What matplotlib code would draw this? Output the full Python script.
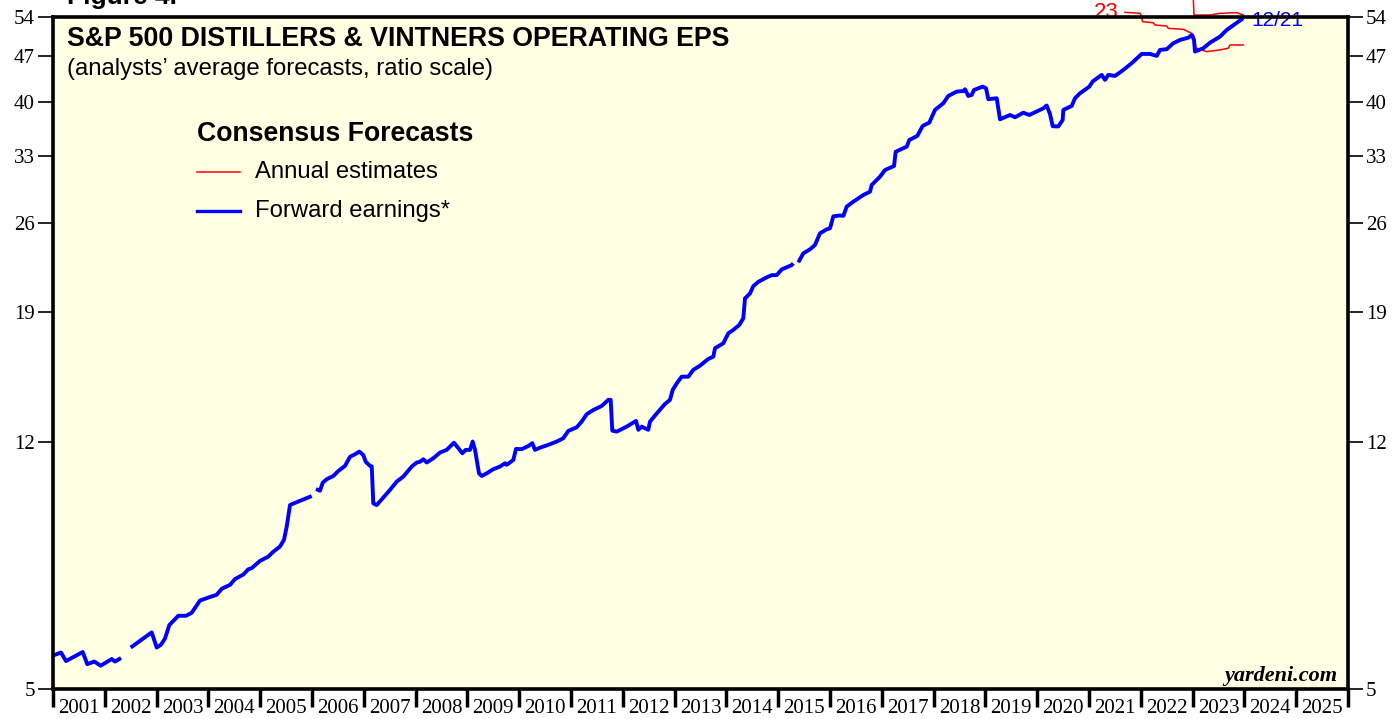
import matplotlib
matplotlib.use("Agg")
import matplotlib.pyplot as plt
import numpy as np
from matplotlib.lines import Line2D

# ---------------- data (decimal years, EPS in $) ----------------
fwd_dates = [
    2001.006, 2001.154, 2001.251, 2001.573, 2001.662, 2001.797, 2001.921, 2002.133, 2002.197, 2002.313,
    np.nan,
    2002.500, 2002.905, 2003.002, 2003.085, 2003.162, 2003.245, 2003.419, 2003.568, 2003.678, 2003.838,
    2004.017, 2004.160, 2004.257, 2004.417, 2004.514, 2004.674, 2004.770, 2004.836, 2004.996, 2005.156,
    2005.253, 2005.382, 2005.459, 2005.512, 2005.575, 2005.705, 2005.994,
    np.nan,
    2006.077, 2006.154, 2006.207, 2006.284, 2006.411, 2006.508, 2006.637, 2006.734, 2006.830, 2006.913,
    2006.990, 2007.037, 2007.120, 2007.153, 2007.183, 2007.249, 2007.377, 2007.506, 2007.635, 2007.763,
    2007.925, 2008.021, 2008.085, 2008.149, 2008.214, 2008.342, 2008.471, 2008.600, 2008.741, 2008.824,
    2008.902, 2008.967, 2009.050, 2009.102, 2009.147, 2009.224, 2009.276, 2009.372, 2009.500, 2009.629,
    2009.726, 2009.759, 2009.886, 2009.938, 2010.048, 2010.176, 2010.253, 2010.305, 2010.401, 2010.562,
    2010.724, 2010.851, 2010.948, 2011.110, 2011.206, 2011.303, 2011.431, 2011.592, 2011.720, 2011.766,
    2011.797, 2011.882, 2012.075, 2012.255, 2012.299, 2012.365, 2012.492, 2012.525, 2012.685, 2012.815,
    2012.911, 2012.963, 2013.052, 2013.137, 2013.265, 2013.361, 2013.490, 2013.650, 2013.747, 2013.780,
    2013.940, 2014.037, 2014.133, 2014.249, 2014.326, 2014.359, 2014.456, 2014.519, 2014.616, 2014.778,
    2014.875, 2014.971, 2015.067, 2015.260, 2015.291,
    np.nan,
    2015.388, 2015.485, 2015.614, 2015.710, 2015.807, 2015.936, 2016.000, 2016.064, 2016.193, 2016.257,
    2016.322, 2016.450, 2016.643, 2016.772, 2016.805, 2016.965, 2017.062, 2017.236, 2017.268, 2017.481,
    2017.531, 2017.685, 2017.789, 2017.917, 2018.027, 2018.187, 2018.284, 2018.446, 2018.574, 2018.606,
    2018.670, 2018.736, 2018.780, 2018.948, 2019.012, 2019.056, 2019.218, 2019.282, 2019.475, 2019.571,
    2019.732, 2019.847, 2020.118, 2020.183, 2020.247, 2020.299, 2020.407, 2020.492, 2020.504, 2020.666,
    2020.730, 2020.826, 2021.006, 2021.071, 2021.245, 2021.309, 2021.373, 2021.502, 2021.662, 2021.824,
    2022.017, 2022.178, 2022.307, 2022.371, 2022.500, 2022.627, 2022.757, 2022.917, 2022.983, 2023.027,
    2023.046, 2023.207, 2023.336, 2023.529, 2023.658, 2023.819, 2023.948, 2023.970,
]
fwd_values = [
    5.63, 5.69, 5.52, 5.70, 5.46, 5.51, 5.43, 5.56, 5.51, 5.58,
    np.nan,
    5.79, 6.11, 5.79, 5.85, 5.98, 6.27, 6.48, 6.48, 6.55, 6.84,
    6.92, 6.98, 7.13, 7.23, 7.38, 7.50, 7.64, 7.67, 7.87, 7.99,
    8.13, 8.28, 8.48, 8.89, 9.59, 9.69, 9.90,
    np.nan,
    10.15, 10.09, 10.38, 10.51, 10.63, 10.82, 11.02, 11.38, 11.48, 11.59,
    11.45, 11.18, 11.02, 11.00, 9.65, 9.59, 9.85, 10.12, 10.42, 10.61,
    10.99, 11.15, 11.18, 11.28, 11.15, 11.32, 11.55, 11.66, 11.96, 11.73,
    11.52, 11.66, 11.66, 12.01, 11.66, 10.73, 10.63, 10.73, 10.89, 10.99,
    11.12, 11.06, 11.25, 11.70, 11.69, 11.82, 11.94, 11.66, 11.75, 11.87,
    12.01, 12.15, 12.47, 12.63, 12.89, 13.23, 13.43, 13.62, 13.92, 13.92,
    12.48, 12.44, 12.66, 12.92, 12.52, 12.66, 12.52, 12.89, 13.35, 13.72,
    13.92, 14.42, 14.80, 15.11, 15.11, 15.48, 15.71, 16.09, 16.22, 16.71,
    17.01, 17.62, 17.83, 18.15, 18.58, 19.94, 20.29, 20.82, 21.14, 21.48,
    21.65, 21.65, 22.09, 22.43, 22.57,
    np.nan,
    22.65, 23.39, 23.72, 24.09, 25.11, 25.46, 25.55, 26.66, 26.74, 26.70,
    27.59, 28.08, 28.75, 29.09, 29.79, 30.68, 31.41, 31.86, 33.51, 34.12,
    34.94, 35.44, 36.72, 37.15, 38.86, 39.79, 40.83, 41.46, 41.56, 41.81,
    40.83, 40.98, 41.71, 42.20, 41.96, 40.36, 40.50, 37.59, 38.17, 37.86,
    38.48, 38.17, 39.08, 39.47, 38.30, 36.68, 36.65, 37.50, 38.86, 39.41,
    40.50, 41.22, 42.20, 42.98, 43.99, 43.22, 43.99, 43.83, 44.77, 45.85,
    47.38, 47.38, 47.05, 48.06, 48.18, 49.21, 49.79, 50.19, 50.67, 49.79,
    47.77, 48.35, 49.31, 50.37, 51.58, 52.68, 53.56, 53.80,
]

est23_dates = [2021.695, 2021.985, 2022.037, 2022.241, 2022.274, 2022.500, 2022.531, 2022.820,
               2022.983, 2023.027, 2023.066, 2023.272, 2023.529, 2023.689, 2023.722, 2023.979]
est23_values = [54.90, 54.71, 53.10, 52.91, 52.48, 52.30, 51.87, 51.69,
                50.96, 50.48, 48.39, 47.77, 48.06, 48.35, 48.91, 48.91]

est24_dates = [2022.525, 2023.008, 2023.027, 2023.336, 2023.529, 2023.851, 2023.979]
est24_values = [59.0, 59.0, 54.38, 54.38, 54.71, 54.84, 54.38]

y_ticks = [5, 12, 19, 26, 33, 40, 47, 54]
years = list(range(2001, 2026))

# ---------------- figure ----------------
W, H = 1395, 719
fig = plt.figure(figsize=(W / 100, H / 100), dpi=100)
fig.patch.set_facecolor("white")
L, R, T, B = 53, 1348, 17, 689
ax = fig.add_axes([L / W, 1 - B / H, (R - L) / W, (B - T) / H])
ax.set_facecolor("#FFFFE3")

serif = "Liberation Serif"
sans = "Liberation Sans"

ax.plot(est23_dates, est23_values, color="#FF0000", lw=1.1, clip_on=False, zorder=3)
ax.plot(est24_dates, est24_values, color="#FF0000", lw=1.1, clip_on=False, zorder=3)
ax.plot(fwd_dates, fwd_values, color="#0000FF", lw=2.8, clip_on=False, zorder=4,
        solid_joinstyle="round", solid_capstyle="butt")

ax.set_yscale("log")
ax.set_ylim(5, 54)
ax.set_xlim(2001, 2026)

ax.set_yticks(y_ticks)
ax.set_yticklabels([str(v) for v in y_ticks])
ax.yaxis.set_minor_locator(matplotlib.ticker.NullLocator())
ax.tick_params(axis="y", which="major", direction="out", length=11, width=1.2,
               left=True, right=True, labelleft=True, labelright=True, pad=2,
               labelsize=15)
for lab in ax.get_yticklabels():
    lab.set_fontfamily(serif)

ax.set_xticks(list(range(2001, 2027)))
ax.set_xticklabels([])
ax.set_xticks([y + 0.5 for y in years], minor=True)
ax.set_xticklabels([str(y) for y in years], minor=True, fontfamily=serif, fontsize=15)
ax.tick_params(axis="x", which="major", direction="out", length=13, width=2.5)
ax.tick_params(axis="x", which="minor", length=0, pad=7)

for s in ax.spines.values():
    s.set_linewidth(2.6)
    s.set_color("black")
    s.set_zorder(5)

# ---------------- texts ----------------
def axx(px):
    return (px - L) / (R - L)

def axy(py):
    return (B - py) / (B - T)

ax.text(axx(67), axy(39), "S&P 500 DISTILLERS & VINTNERS OPERATING EPS", transform=ax.transAxes,
        fontfamily=sans, fontweight="bold", fontsize=19.3, va="center", ha="left")
ax.text(axx(67), axy(69), "(analysts\u2019 average forecasts, ratio scale)", transform=ax.transAxes,
        fontfamily=sans, fontsize=17.2, va="center", ha="left")

ax.text(axx(197), axy(134), "Consensus Forecasts", transform=ax.transAxes,
        fontfamily=sans, fontweight="bold", fontsize=19.2, va="center", ha="left")
ax.add_line(Line2D([axx(197), axx(240)], [axy(172), axy(172)], transform=ax.transAxes,
                   color="#FF0000", lw=1.1))
ax.text(axx(255), axy(172), "Annual estimates", transform=ax.transAxes,
        fontfamily=sans, fontsize=17.2, va="center", ha="left")
ax.add_line(Line2D([axx(197), axx(240)], [axy(211), axy(211)], transform=ax.transAxes,
                   color="#0000FF", lw=2.4))
ax.text(axx(255), axy(211), "Forward earnings*", transform=ax.transAxes,
        fontfamily=sans, fontsize=17.2, va="center", ha="left")

ax.text(axx(1337), axy(676), "yardeni.com", transform=ax.transAxes,
        fontfamily=serif, fontweight="bold", fontstyle="italic", fontsize=16,
        va="center", ha="right")

ax.text(axx(1106), axy(12), "23", transform=ax.transAxes, color="#FF0000",
        fontfamily=sans, fontsize=16, va="center", ha="center", clip_on=False)
ax.text(axx(1153), axy(-10), "24", transform=ax.transAxes, color="#FF0000",
        fontfamily=sans, fontsize=16, va="center", ha="center", clip_on=False)
ax.text(axx(1251), axy(20), "12/21", transform=ax.transAxes, color="#0000FF",
        fontfamily=sans, fontsize=15, va="center", ha="left", clip_on=False)

fig.text(67 / W, 1 - 4 / H, "Figure 4.", fontfamily=sans, fontweight="bold",
         fontsize=19, va="baseline", ha="left")

fig.savefig("out.png", dpi=100, facecolor="white")
